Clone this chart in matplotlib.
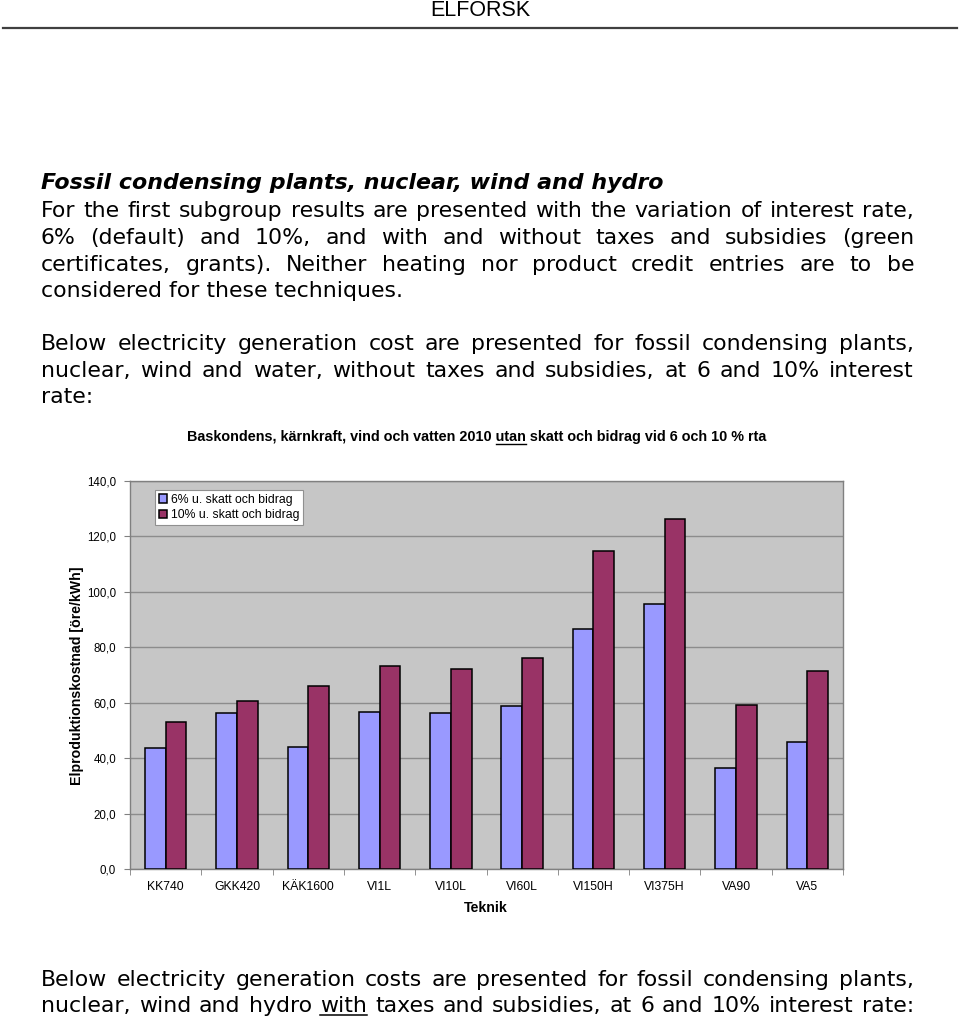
import matplotlib
matplotlib.use('Agg')
import matplotlib.pyplot as plt
from matplotlib.lines import Line2D
import numpy as np

W, H = 960, 1019

categories = ['KK740', 'GKK420', 'KÄK1600', 'VI1L', 'VI10L', 'VI60L',
              'VI150H', 'VI375H', 'VA90', 'VA5']
rate6 = [43.7, 56.3, 44.0, 56.7, 56.3, 58.8, 86.6, 95.6, 36.4, 45.8]
rate10 = [53.0, 60.6, 66.0, 73.3, 72.2, 76.1, 114.8, 126.3, 59.2, 71.5]
series_labels = ['6% u. skatt och bidrag', '10% u. skatt och bidrag']
yticks = [0, 20, 40, 60, 80, 100, 120, 140]

header = 'ELFORSK'
heading = 'Fossil condensing plants, nuclear, wind and hydro'
para1 = ['For the first subgroup results are presented with the variation of interest rate,',
         '6% (default) and 10%, and with and without taxes and subsidies (green',
         'certificates, grants). Neither heating nor product credit entries are to be',
         'considered for these techniques.']
para2 = ['Below electricity generation cost are presented for fossil condensing plants,',
         'nuclear, wind and water, without taxes and subsidies, at 6 and 10% interest',
         'rate:']
para3 = ['Below electricity generation costs are presented for fossil condensing plants,',
         'nuclear, wind and hydro with taxes and subsidies, at 6 and 10% interest rate:']
chart_title = 'Baskondens, kärnkraft, vind och vatten 2010 utan skatt och bidrag vid 6 och 10 % rta'
title_underlined = 'utan'
ylabel = 'Elproduktionskostnad [öre/kWh]'
xlabel = 'Teknik'

fig = plt.figure(figsize=(W / 100, H / 100), dpi=100)
fig.patch.set_facecolor('white')
renderer = fig.canvas.get_renderer()


def fx(x):
    return x / W


def fy(y):
    return 1 - y / H


def wwidth(s, **kw):
    t = fig.text(0, 0, s, **kw)
    w = t.get_window_extent(renderer).width
    t.remove()
    return w


def text_line(text, y, x0=41, x1=914, justify=True, underline=(), **kw):
    words = text.split(' ')
    if not justify or len(words) == 1:
        fig.text(fx(x0), fy(y), text, va='baseline', ha='left', **kw)
        return
    widths = [wwidth(w, **kw) for w in words]
    gap = (x1 - x0 - sum(widths)) / (len(words) - 1)
    x = x0
    for w, wd in zip(words, widths):
        fig.text(fx(x), fy(y), w, va='baseline', ha='left', **kw)
        if w in underline:
            fig.add_artist(Line2D([fx(x), fx(x + wd)], [fy(y + 3)] * 2,
                                  color='black', lw=1.1))
        x += wd + gap


body = dict(family='DejaVu Sans', fontsize=15.8, color='black')

# header
fig.text(fx(480), fy(10), header, ha='center', va='center',
         family='Liberation Sans', fontsize=15.5, color='black')
fig.add_artist(Line2D([fx(3), fx(957)], [fy(28), fy(28)], color='#404040', lw=1.6))

# heading and paragraphs
text_line(heading, 189, justify=False, family='DejaVu Sans', fontsize=15.9,
          weight='bold', style='italic', color='black')
ys1 = [217, 244, 271, 297]
for i, (ln, y) in enumerate(zip(para1, ys1)):
    text_line(ln, y, justify=i < len(para1) - 1, **body)
ys2 = [350, 377, 403]
for i, (ln, y) in enumerate(zip(para2, ys2)):
    text_line(ln, y, justify=i < len(para2) - 1, **body)
ys3 = [986, 1012]
for ln, y in zip(para3, ys3):
    text_line(ln, y, justify=True, underline=('with',), **body)

# chart title (centered, one word underlined)
tkw = dict(family='Liberation Sans', weight='bold', color='black')
tfs = 10 * (767 - 188) / wwidth(chart_title, fontsize=10, **tkw)
tkw['fontsize'] = tfs
tw = wwidth(chart_title, **tkw)
tx0 = 477 - tw / 2
fig.text(fx(tx0), fy(441), chart_title, ha='left', va='baseline', **tkw)
idx = chart_title.index(title_underlined)
ux0 = tx0 + wwidth(chart_title[:idx] + title_underlined, **tkw) - wwidth(title_underlined, **tkw)
ux1 = ux0 + wwidth(title_underlined, **tkw)
fig.add_artist(Line2D([fx(ux0), fx(ux1)], [fy(444)] * 2, color='black', lw=1.0))

# chart
ax = fig.add_axes([fx(130), fy(869), (843 - 130) / W, (869 - 481) / H])
ax.set_facecolor('#C6C6C6')
x = np.arange(len(categories))
bw = 0.29
ax.bar(x - bw / 2, rate6, bw, color='#9999FF', edgecolor='black', lw=1.1,
       label=series_labels[0], zorder=3)
ax.bar(x + bw / 2, rate10, bw, color='#993366', edgecolor='black', lw=1.1,
       label=series_labels[1], zorder=3)
ax.set_xlim(-0.5, len(categories) - 0.5)
ax.set_ylim(0, 140)
ax.set_yticks(yticks)
ax.set_yticklabels([f'{v:.1f}'.replace('.', ',') for v in yticks],
                   family='Liberation Sans', fontsize=8.3)
ax.yaxis.grid(True, color='#8C8C8C', lw=1.0, zorder=1)
ax.set_axisbelow(True)
ax.set_xticks(x)
ax.set_xticklabels(categories, family='Liberation Sans', fontsize=8.8)
ax.set_xticks(np.arange(-0.5, len(categories)), minor=True)
ax.tick_params(axis='x', which='major', length=0, pad=9)
ax.tick_params(axis='x', which='minor', length=4, color='#808080')
ax.tick_params(axis='y', length=4, color='#808080', pad=6)
for s in ax.spines.values():
    s.set_color('#808080')
    s.set_linewidth(1.0)

fig.text(fx(77), fy(676), ylabel, rotation=90, ha='center', va='center',
         family='Liberation Sans', fontsize=10.2, weight='bold')
fig.text(fx(486), fy(908), xlabel, ha='center', va='center',
         family='Liberation Sans', fontsize=10.2, weight='bold')

leg = ax.legend(loc='upper left', bbox_to_anchor=(fx(155), fy(490)),
                bbox_transform=fig.transFigure, fancybox=False, framealpha=1,
                edgecolor='#909090', prop=dict(family='Liberation Sans', size=8.8),
                handlelength=0.7, handleheight=0.7, handletextpad=0.3,
                borderpad=0.3, labelspacing=0.3, borderaxespad=0)
leg.get_frame().set_linewidth(0.8)

fig.savefig('out.png', dpi=100)
